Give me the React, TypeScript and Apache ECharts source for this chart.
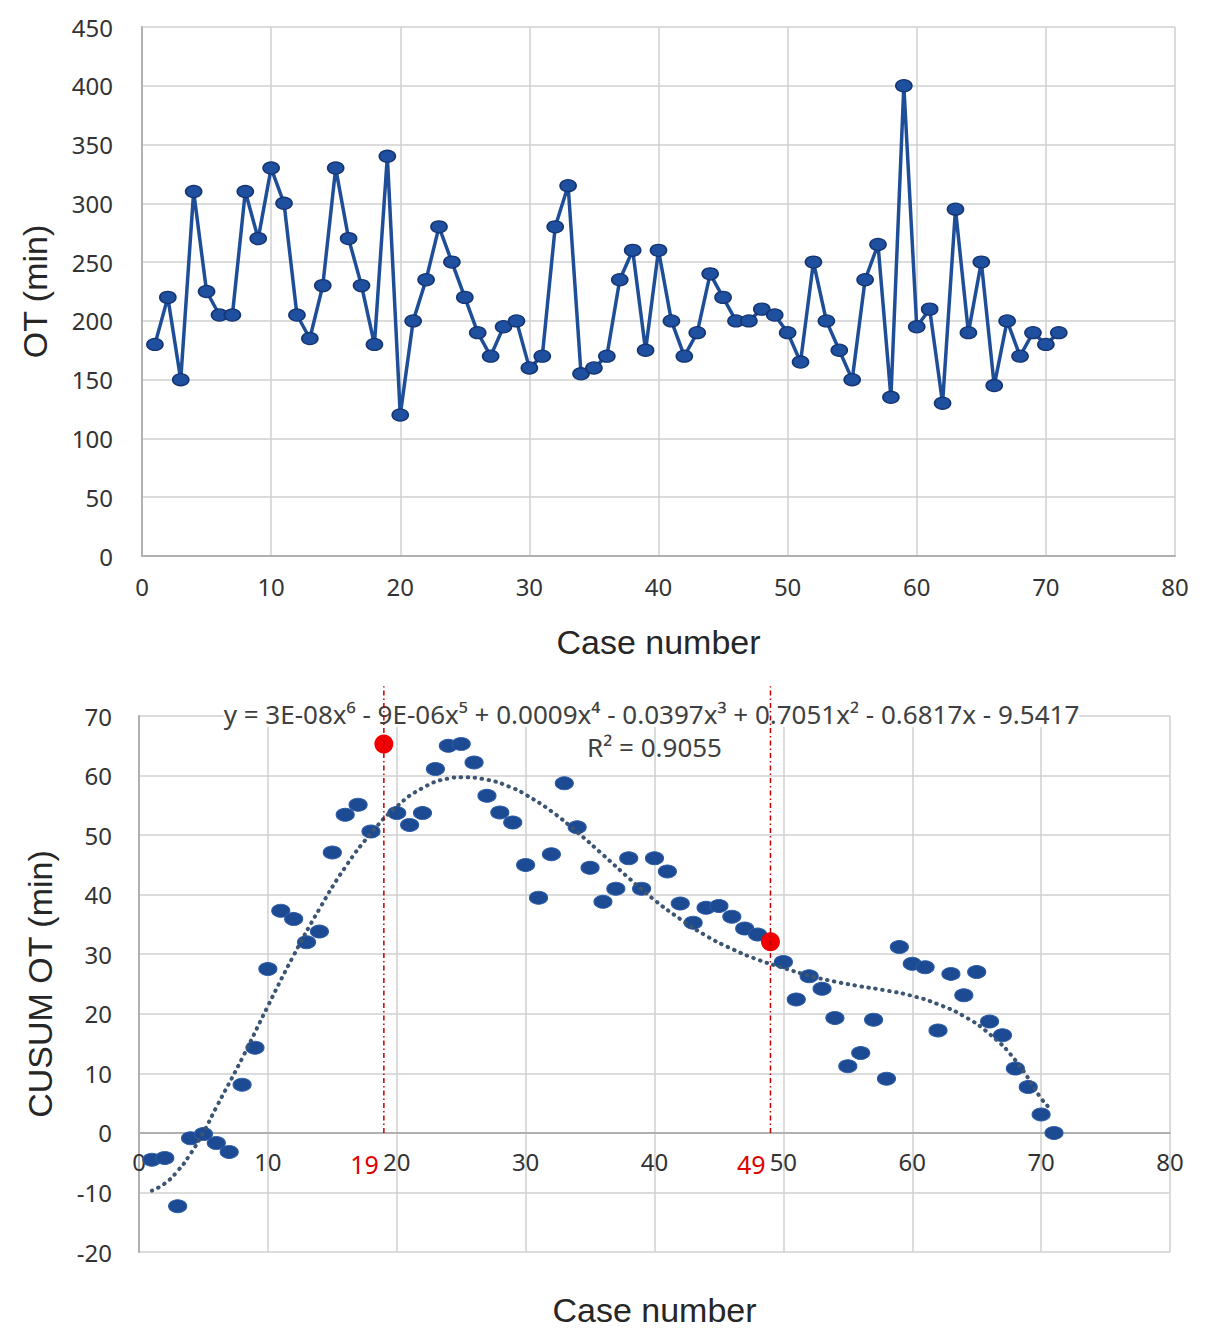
import { useEffect, useRef } from 'react';
import * as echarts from 'echarts';

// Case numbers shared by both panels
const caseNumbers = [
    1, 2, 3, 4, 5, 6, 7, 8, 9, 10, 11, 12, 13, 14, 15, 16, 17, 18, 19, 20,
    21, 22, 23, 24, 25, 26, 27, 28, 29, 30, 31, 32, 33, 34, 35, 36, 37, 38, 39, 40,
    41, 42, 43, 44, 45, 46, 47, 48, 49, 50, 51, 52, 53, 54, 55, 56, 57, 58, 59, 60,
    61, 62, 63, 64, 65, 66, 67, 68, 69, 70, 71,
];

// Top panel: operative time per case (min)
const otMinutes = [
    180, 220, 150, 310, 225, 205, 205, 310, 270, 330,
    300, 205, 185, 230, 330, 270, 230, 180, 340, 120,
    200, 235, 280, 250, 220, 190, 170, 195, 200, 160,
    170, 280, 315, 155, 160, 170, 235, 260, 175, 260,
    200, 170, 190, 240, 220, 200, 200, 210, 205, 190,
    165, 250, 200, 175, 150, 235, 265, 135, 400, 195,
    210, 130, 295, 190, 250, 145, 200, 170, 190, 180, 190,
];

// Bottom panel: CUSUM of OT (min)
const cusumOT = [
    -4.5, -4.2, -12.3, -0.9, -0.2, -1.7, -3.2, 8.1, 14.3, 27.5,
    37.3, 35.9, 32.0, 33.8, 47.1, 53.4, 55.1, 50.6, 65.3, 53.7,
    51.7, 53.7, 61.1, 65.0, 65.3, 62.2, 56.6, 53.8, 52.1, 45.0,
    39.5, 46.8, 58.7, 51.3, 44.5, 38.8, 41.0, 46.1, 41.0, 46.1,
    43.9, 38.5, 35.3, 37.8, 38.1, 36.3, 34.3, 33.3, 32.1, 28.7,
    22.4, 26.3, 24.2, 19.3, 11.2, 13.4, 19.0, 9.1, 31.2, 28.4,
    27.8, 17.2, 26.7, 23.1, 27.0, 18.7, 16.4, 10.8, 7.7, 3.1, 0.0,
];

// Polynomial trend line
const trendCases = [
    1, 2, 3, 4, 5, 6, 8, 10, 12, 14, 16, 18, 20, 22, 24, 25, 27, 29, 30, 32,
    34, 36, 38, 40, 42, 44, 46, 48, 50, 52, 54, 56, 58, 60, 62, 64, 66, 68, 70, 70.6,
];
const trendValues = [
    -9.7, -8.5, -6.4, -3.5, 0.1, 4.3, 12.5, 21.3, 29.8, 37.6, 44.6, 50.3, 54.8, 57.9, 59.5, 59.7, 59.3, 57.9, 56.8, 54.0,
    50.5, 46.7, 42.8, 39.1, 35.9, 33.1, 30.9, 29.1, 27.7, 26.4, 25.4, 24.6, 23.9, 23.0, 21.6, 19.6, 16.6, 12.2, 5.8, 4.3,
];

// Change points
const changeCases = [19, 49];
const changeLabels = ['19', '49'];

const equationText = 'y = 3E-08x⁶ - 9E-06x⁵ + 0.0009x⁴ - 0.0397x³ + 0.7051x² - 0.6817x - 9.5417';
const rSquaredText = 'R² = 0.9055';

const cusumMin = -20;
const cusumMax = 70;
const bottomGridHeight = 536;

const tickFont = { fontFamily: 'Noto Sans', fontSize: 24, color: '#333333' };
const titleFont = { fontFamily: 'Liberation Sans', fontSize: 34, color: '#262626' };
const gridLine = { lineStyle: { color: '#d0d0d0', width: 1.5 } };
const axisLine = { lineStyle: { color: '#b0b0b0', width: 2 } };

export default function App() {
    const chartRef = useRef<HTMLDivElement>(null);

    useEffect(() => {
        if (!chartRef.current) return;
        const chart = echarts.init(chartRef.current, null, { renderer: 'svg' });

        const scatterData = cusumOT.map((v, i) => {
            const c = caseNumbers[i];
            if (changeCases.includes(c)) {
                return { value: [c, v], symbolSize: 19, itemStyle: { color: '#f00000', borderWidth: 0 } };
            }
            return [c, v];
        });

        // the bottom x axis sits on the y = 0 line
        const zeroOffset = -bottomGridHeight * (0 - cusumMin) / (cusumMax - cusumMin);

        const option: echarts.EChartsOption = {
            animation: false,
            backgroundColor: '#ffffff',
            grid: [
                { left: 142, top: 27, width: 1033, height: 529, outerBoundsMode: 'none' } as any,
                { left: 139, top: 716, width: 1031, height: bottomGridHeight, outerBoundsMode: 'none' } as any,
            ],
            xAxis: [
                {
                    gridIndex: 0,
                    type: 'value',
                    min: 0,
                    max: 80,
                    interval: 10,
                    name: 'Case number',
                    nameLocation: 'middle',
                    nameGap: 69,
                    nameTextStyle: titleFont,
                    axisLine,
                    axisTick: { show: false },
                    axisLabel: { ...tickFont, margin: 18 },
                    splitLine: gridLine,
                },
                {
                    gridIndex: 1,
                    type: 'value',
                    min: 0,
                    max: 80,
                    interval: 10,
                    position: 'bottom',
                    offset: zeroOffset,
                    name: 'Case number',
                    nameLocation: 'middle',
                    nameGap: 160,
                    nameTextStyle: titleFont,
                    axisLine: { ...axisLine, onZero: false },
                    axisTick: { show: false },
                    axisLabel: { ...tickFont, margin: 17 },
                    splitLine: gridLine,
                },
            ],
            yAxis: [
                {
                    gridIndex: 0,
                    type: 'value',
                    min: 0,
                    max: 450,
                    interval: 50,
                    name: 'OT (min)',
                    nameLocation: 'middle',
                    nameGap: 90,
                    nameTextStyle: titleFont,
                    axisLine: { show: true, ...axisLine },
                    axisTick: { show: false },
                    axisLabel: { ...tickFont, margin: 29 },
                    splitLine: gridLine,
                },
                {
                    gridIndex: 1,
                    type: 'value',
                    min: cusumMin,
                    max: cusumMax,
                    interval: 10,
                    name: 'CUSUM OT (min)',
                    nameLocation: 'middle',
                    nameGap: 82,
                    nameTextStyle: titleFont,
                    axisLine: { show: true, ...axisLine, onZero: false },
                    axisTick: { show: false },
                    axisLabel: { ...tickFont, margin: 27 },
                    splitLine: gridLine,
                },
            ],
            series: [
                {
                    type: 'line',
                    xAxisIndex: 0,
                    yAxisIndex: 0,
                    data: otMinutes.map((v, i) => [caseNumbers[i], v]),
                    symbol: 'circle',
                    symbolSize: [16, 12],
                    lineStyle: { color: '#1f4e99', width: 3.5 },
                    itemStyle: { color: '#1f4f9f', borderColor: '#143572', borderWidth: 1.5 },
                },
                {
                    type: 'scatter',
                    xAxisIndex: 1,
                    yAxisIndex: 1,
                    data: scatterData,
                    symbol: 'circle',
                    symbolSize: [18, 13],
                    itemStyle: { color: '#1c4a93', borderColor: '#2b5aa6', borderWidth: 1, opacity: 1 },
                },
                {
                    type: 'line',
                    xAxisIndex: 1,
                    yAxisIndex: 1,
                    data: trendValues.map((v, i) => [trendCases[i], v]),
                    smooth: true,
                    showSymbol: false,
                    z: 3,
                    lineStyle: { color: '#3b5573', width: 4, type: [0.5, 6.5], cap: 'round' },
                },
            ],
        };

        chart.setOption(option);

        // Annotations placed through the bottom grid's scales
        const eq = chart.convertToPixel({ gridIndex: 1 }, [40, 70]) as number[];
        const graphics: any[] = [
            {
                type: 'text',
                x: eq[0] - 3,
                y: eq[1] - 2,
                z: 10,
                style: {
                    text: equationText,
                    fontFamily: 'Noto Sans',
                    fontSize: 26,
                    lineHeight: 26,
                    fill: '#404040',
                    align: 'center',
                    verticalAlign: 'middle',
                    backgroundColor: '#ffffff',
                },
            },
            {
                type: 'text',
                x: eq[0],
                y: eq[1] + 31,
                z: 10,
                style: {
                    text: rSquaredText,
                    fontFamily: 'Noto Sans',
                    fontSize: 26,
                    lineHeight: 26,
                    fill: '#404040',
                    align: 'center',
                    verticalAlign: 'middle',
                },
            },
        ];
        changeCases.forEach((c, i) => {
            const bottom = chart.convertToPixel({ gridIndex: 1 }, [c, 0]) as number[];
            const top = chart.convertToPixel({ gridIndex: 1 }, [c, 75]) as number[];
            graphics.push({
                type: 'line',
                z: 11,
                shape: { x1: bottom[0], y1: bottom[1], x2: top[0], y2: top[1] },
                style: { stroke: '#c00000', lineWidth: 1.5, lineDash: [5, 3, 1.5, 3] },
            });
            graphics.push({
                type: 'text',
                x: bottom[0] - 5,
                y: bottom[1] + 31,
                z: 11,
                style: {
                    text: changeLabels[i],
                    fontFamily: 'Noto Sans',
                    fontSize: 25,
                    fill: '#e00000',
                    align: 'right',
                    verticalAlign: 'middle',
                },
            });
        });
        chart.setOption({ graphic: graphics });

        return () => {
            chart.dispose();
        };
    }, []);

    return (
        <div
            ref={chartRef}
            style={{ position: 'absolute', left: 0, top: 0, width: 1205, height: 1335, background: '#fff' }}
        />
    );
}
